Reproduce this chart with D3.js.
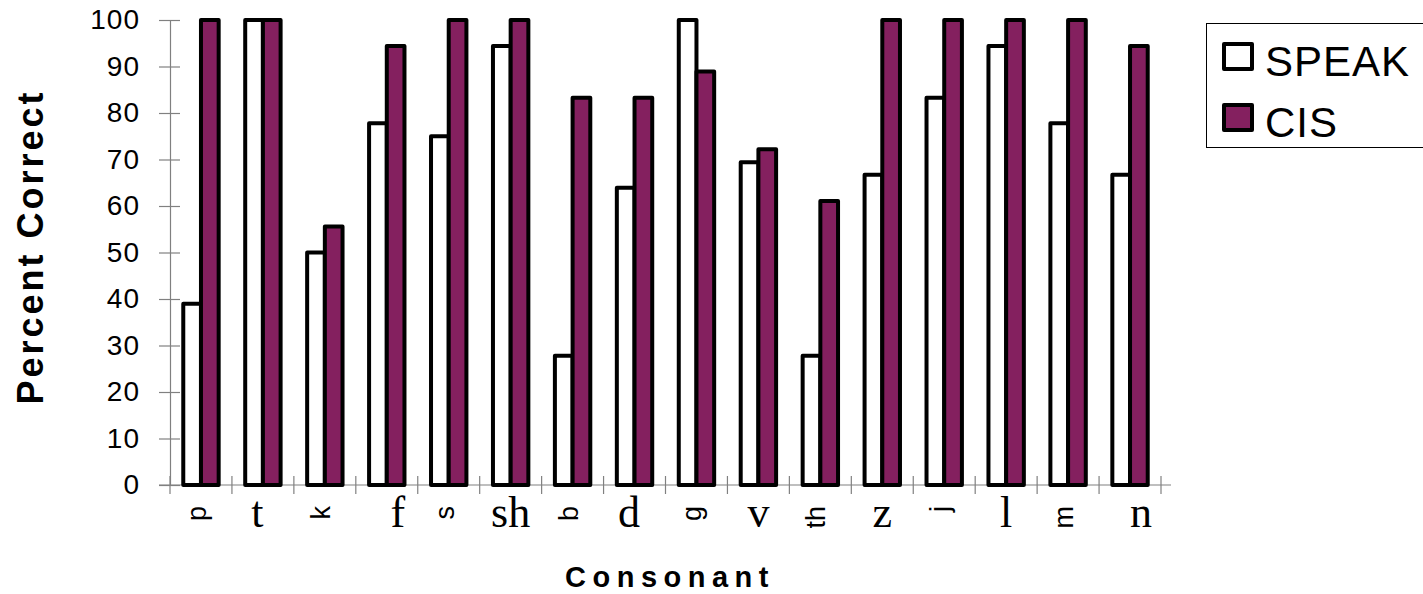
<!DOCTYPE html>
<html>
<head>
<meta charset="utf-8">
<script src="https://cdn.jsdelivr.net/npm/d3@7"></script>
<style>
  body { margin: 0; background: #fff; }
  svg { display: block; }
</style>
</head>
<body>
<svg id="chart" width="1423" height="594"></svg>
<script>
// consonant labels; some are drawn with the sideways symbol font like the original
const consonants = ["p", "t", "k", "f", "s", "sh", "b", "d", "g", "v", "th", "z", "j", "l", "m", "n"];
const labelText = ["p", "t ", "k", "  f", "s", "sh", "b", "d ", "g", "v", "th", "z", "j", "l", "m", "  n"];
const sidewaysLabels = ["p", "k", "s", "b", "g", "th", "j", "m"];
const series = ["SPEAK", "CIS"];
const speak = [39, 100, 50, 77.8, 75, 94.4, 27.8, 63.9, 100, 69.4, 27.8, 66.7, 83.3, 94.4, 77.8, 66.7];
const cis = [100, 100, 55.6, 94.4, 100, 100, 83.3, 83.3, 88.9, 72.2, 61.1, 100, 100, 100, 100, 94.4];
const yTicks = [0, 10, 20, 30, 40, 50, 60, 70, 80, 90, 100];

const colors = { SPEAK: "#ffffff", CIS: "#84205f" };
const sans = "'Liberation Sans', Arial, sans-serif";
const serif = "'Liberation Serif', 'Times New Roman', serif";

const data = consonants.map((c, i) => ({ name: c, label: labelText[i], SPEAK: speak[i], CIS: cis[i] }));

const svg = d3.select("#chart");

const x0 = d3.scaleBand().domain(consonants).range([170, 1161]).padding(0);
const bw = x0.bandwidth();
// gap width 150% of one bar
const x1 = d3.scaleBand().domain(series).range([bw * 0.75 / 3.5, bw - bw * 0.75 / 3.5]).padding(0);
const y = d3.scaleLinear().domain([0, 100]).range([485, 20]);

// y axis
const yAxis = svg.append("g")
  .attr("transform", "translate(170,0)")
  .call(d3.axisLeft(y).tickValues(yTicks).tickSizeInner(11).tickSizeOuter(0).tickPadding(30));
yAxis.select(".domain").attr("stroke", "#808080").attr("stroke-width", 1.2);
yAxis.selectAll(".tick line").attr("x1", 10).attr("stroke", "#808080").attr("stroke-width", 1.2);
yAxis.selectAll(".tick text")
  .attr("x", -30)
  .attr("fill", "#000")
  .style("font-family", sans)
  .style("font-size", "28px")
  .style("letter-spacing", "1px");

// x axis line and boundary ticks
svg.append("line")
  .attr("x1", 159).attr("x2", 1171)
  .attr("y1", y(0)).attr("y2", y(0))
  .attr("stroke", "#808080").attr("stroke-width", 1.2);

const bounds = consonants.map(c => x0(c)).concat([x0.range()[1]]);
svg.append("g").selectAll("line")
  .data(bounds)
  .join("line")
  .attr("x1", d => d).attr("x2", d => d)
  .attr("y1", y(0) - 9).attr("y2", y(0) + 9)
  .attr("stroke", "#808080").attr("stroke-width", 1.2);

// bars
const groups = svg.append("g").selectAll("g")
  .data(data)
  .join("g")
  .attr("transform", d => `translate(${x0(d.name)},0)`);

groups.selectAll("rect")
  .data(d => series.map(s => ({ key: s, value: d[s] })))
  .join("rect")
  .attr("x", d => x1(d.key))
  .attr("y", d => y(d.value))
  .attr("width", x1.bandwidth())
  .attr("height", d => y(0) - y(d.value))
  .attr("fill", d => colors[d.key])
  .attr("stroke", "#000")
  .attr("stroke-width", 4)
  .attr("stroke-linejoin", "round");

// category labels
const labels = svg.append("g");
data.forEach(d => {
  const cx = x0(d.name) + bw / 2;
  if (sidewaysLabels.includes(d.name)) {
    labels.append("text")
      .attr("transform", `translate(${cx + 5},506) rotate(-90)`)
      .attr("text-anchor", "end")
      .style("font-family", sans)
      .style("font-size", "27px")
      .text(d.label);
  } else {
    labels.append("text")
      .attr("x", cx)
      .attr("y", 527)
      .attr("text-anchor", "middle")
      .style("font-family", serif)
      .style("font-size", "44px")
      .style("white-space", "pre")
      .text(d.label);
  }
});

// axis titles
svg.append("text")
  .attr("x", 670)
  .attr("y", 587)
  .attr("text-anchor", "middle")
  .style("font-family", sans)
  .style("font-size", "29px")
  .style("font-weight", "bold")
  .style("letter-spacing", "6.5px")
  .text("Consonant");

svg.append("text")
  .attr("transform", "translate(43,247) rotate(-90)")
  .attr("text-anchor", "middle")
  .style("font-family", sans)
  .style("font-size", "36px")
  .style("font-weight", "bold")
  .style("letter-spacing", "3px")
  .text("Percent Correct");

// legend
const legend = svg.append("g");
legend.append("rect")
  .attr("x", 1206.5).attr("y", 23.5)
  .attr("width", 260).attr("height", 124)
  .attr("fill", "#fff")
  .attr("stroke", "#000").attr("stroke-width", 1);

const items = legend.selectAll("g.item")
  .data(series)
  .join("g")
  .attr("class", "item")
  .attr("transform", (d, i) => `translate(0,${i * 61})`);

items.append("rect")
  .attr("x", 1224).attr("y", 44)
  .attr("width", 28).attr("height", 25)
  .attr("fill", d => colors[d])
  .attr("stroke", "#000").attr("stroke-width", 4)
  .attr("stroke-linejoin", "round");

items.append("text")
  .attr("x", 1265).attr("y", 76)
  .style("font-family", sans)
  .style("font-size", "42px")
  .style("letter-spacing", "1px")
  .text(d => d);
</script>
</body>
</html>
